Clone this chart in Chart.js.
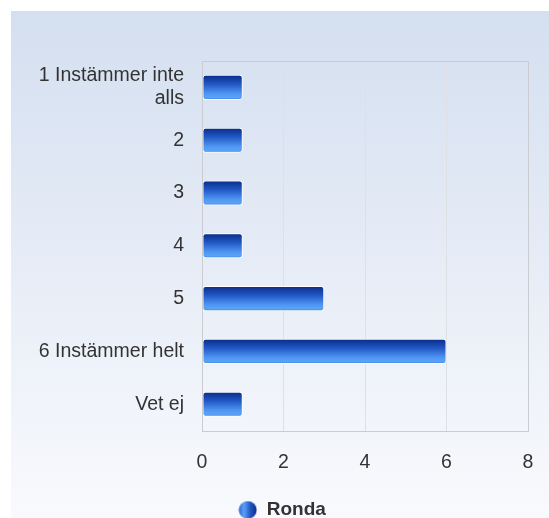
<!DOCTYPE html>
<html><head><meta charset="utf-8">
<script src="https://cdn.jsdelivr.net/npm/chart.js@4/dist/chart.umd.min.js"></script>
<style>html,body{margin:0;padding:0;background:#fff;}#wrap{width:549px;height:518px;position:relative;}</style>
</head><body><div id="wrap"><canvas id="c" width="549" height="518"></canvas></div>
<script>
const categories = [["1 Instämmer inte","alls"],"2","3","4","5","6 Instämmer helt","Vet ej"];
const seriesName = "Ronda";
const values = [1,1,1,1,3,6,1];
const xTicks = [0,2,4,6,8];

const FONT = '"Liberation Sans", Arial, sans-serif';
function barGradient(ctx, top, bottom){
  const g = ctx.createLinearGradient(0, top, 0, bottom);
  g.addColorStop(0, '#0a2a85');
  g.addColorStop(0.35, '#1f55c2');
  g.addColorStop(0.75, '#4f96f2');
  g.addColorStop(0.9, '#5aa2f7');
  g.addColorStop(1, '#3e7fdc');
  return g;
}
const legendIcon = (function(){
  const c = document.createElement('canvas'); c.width = 19; c.height = 19;
  const x = c.getContext('2d');
  const g = x.createLinearGradient(0,0,19,0);
  g.addColorStop(0,'#2a64d0'); g.addColorStop(0.3,'#5aa0f5'); g.addColorStop(0.65,'#1f55c2'); g.addColorStop(1,'#0a2a85');
  x.fillStyle = g; x.beginPath(); x.arc(9.5,9.5,9,0,Math.PI*2); x.fill();
  return c;
})();

const bgPlugin = {
  id:'bg',
  beforeDraw(chart){
    const ctx = chart.ctx;
    const g = ctx.createLinearGradient(0, 11, 0, chart.height);
    g.addColorStop(0, '#d4dff0');
    g.addColorStop(1, '#f9fafd');
    ctx.save(); ctx.fillStyle = '#ffffff'; ctx.fillRect(0,0,chart.width,chart.height);
    ctx.fillStyle = g; ctx.fillRect(11, 11, chart.width-11, chart.height-11); ctx.restore();
  },
  beforeDatasetsDraw(chart){
    const ctx = chart.ctx;
    chart.getDatasetMeta(0).data.forEach(el => {
      const h = el.height;
      el.options.backgroundColor = barGradient(ctx, el.y - h/2, el.y + h/2);
    });
  },
  afterDraw(chart){
    const a = chart.chartArea, ctx = chart.ctx;
    ctx.save(); ctx.strokeStyle = '#c9ccd0'; ctx.lineWidth = 1;
    ctx.strokeRect(Math.round(a.left)+0.5, Math.round(a.top)+0.5, Math.round(a.right-a.left), Math.round(a.bottom-a.top));
    ctx.restore();
  }
};

new Chart(document.getElementById('c'), {
  type:'bar',
  data:{ labels: categories, datasets:[{ label: seriesName, data: values,
    backgroundColor: () => '#2a64d0', borderColor:'#ffffff', borderWidth:1, borderRadius:3, borderSkipped:false,
    barPercentage:0.5, categoryPercentage:0.95 }]},
  options:{
    indexAxis:'y', responsive:false, animation:false, devicePixelRatio:1,
    layout:{ padding:{ left:36, right:21, top:61, bottom:-11.5 } },
    plugins:{
      tooltip:{enabled:false},
      legend:{ position:'bottom', labels:{ usePointStyle:true, pointStyle: legendIcon, padding:6.5,
        color:'#333', font:{ family:FONT, size:19, weight:'bold' } } }
    },
    scales:{
      x:{ min:0, max:8, afterBuildTicks(s){ s.ticks = xTicks.map(v=>({value:v})); },
        afterFit(s){ s.paddingRight = 0; s.paddingLeft = 0; },
        grid:{ color:'#dde1e6', drawTicks:false }, border:{ display:false },
        ticks:{ padding:20, color:'#333', font:{ family:FONT, size:19.5 } } },
      y:{ grid:{ display:false, drawTicks:false }, border:{ display:false },
        afterFit(s){ s.width = 166; },
        ticks:{ padding:18, color:'#333', font:{ family:FONT, size:19.5 } } }
    }
  },
  plugins:[bgPlugin]
});
</script></body></html>
